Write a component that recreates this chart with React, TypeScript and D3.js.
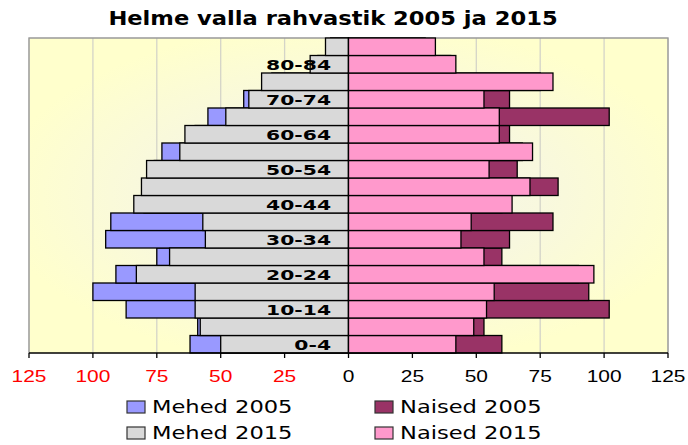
import React from "react";
import { scaleLinear, scaleBand, range } from "d3";

const ages = ["0-4", "5-9", "10-14", "15-19", "20-24", "25-29", "30-34", "35-39", "40-44",
  "45-49", "50-54", "55-59", "60-64", "65-69", "70-74", "75-79", "80-84", "85+"];
const men2005 = [62, 59, 87, 100, 91, 75, 95, 93, 80, 78, 76, 73, 60, 55, 41, 30, 12, 7];
const men2015 = [50, 58, 60, 60, 83, 70, 56, 57, 84, 81, 79, 66, 64, 48, 39, 34, 15, 9];
const women2005 = [60, 53, 102, 94, 90, 60, 63, 80, 60, 82, 66, 68, 63, 102, 63, 75, 40, 30];
const women2015 = [42, 49, 54, 57, 96, 53, 44, 48, 64, 71, 55, 72, 59, 59, 53, 80, 42, 34];
const ticks = [-125, -100, -75, -50, -25, 0, 25, 50, 75, 100, 125];
const legendItems = [
  { name: "Mehed 2005", color: "#9999FF" },
  { name: "Naised 2005", color: "#993366" },
  { name: "Mehed 2015", color: "#D9D9D9" },
  { name: "Naised 2015", color: "#FF99CC" },
];

const App = () => {
  const width = 688;
  const height = 445;
  const left = 29, right = 668, top = 38, bottom = 353;

  const x = scaleLinear().domain([-125, 125]).range([left, right]);
  const y = scaleBand().domain(ages).range([bottom, top]).padding(0);
  const bw = y.bandwidth();

  const bar = (vals: number[], sign: number, fill: string, key: string) =>
    vals.map((v, i) => {
      const x0 = x(0);
      const x1 = x(sign * v);
      return (
        <rect key={key + i} x={Math.min(x0, x1)} y={y(ages[i])} width={Math.abs(x1 - x0)}
          height={bw} fill={fill} stroke="#000" strokeWidth={1.3} />
      );
    });

  return (
    <svg width={width} height={height} viewBox={`0 0 ${width} ${height}`}
      style={{ position: "absolute", left: 0, top: 0, display: "block", background: "#fff" }}>
      <defs>
        <radialGradient id="bg" cx="0.5" cy="0.5" r="0.55">
          <stop offset="0" stopColor="#F3F3EC" />
          <stop offset="0.55" stopColor="#F8F8DE" />
          <stop offset="1" stopColor="#FFFFCC" />
        </radialGradient>
      </defs>
      <text transform={`translate(333,25) scale(1.19,1)`} textAnchor="middle"
        fontFamily="DejaVu Sans" fontWeight="bold" fontSize={19}>
        Helme valla rahvastik 2005 ja 2015
      </text>

      <rect x={left} y={top} width={right - left} height={bottom - top} fill="url(#bg)" />
      {ticks.filter((t) => t !== 0).map((t) => (
        <line key={"g" + t} x1={x(t)} x2={x(t)} y1={top} y2={bottom} stroke="#D4D4C8" strokeWidth={1.3} />
      ))}
      <path d={`M${left},${bottom}V${top}H${right}V${bottom}`} fill="none" stroke="#999" strokeWidth={1.3} />

      {bar(men2005, -1, "#9999FF", "m5")}
      {bar(men2015, -1, "#D9D9D9", "m15")}
      {bar(women2005, 1, "#993366", "w5")}
      {bar(women2015, 1, "#FF99CC", "w15")}

      {range(0, ages.length, 2).map((i) => (
        <text key={"a" + i} transform={`translate(331,${y(ages[i])! + bw / 2 + 6}) scale(1.4,1)`}
          textAnchor="end" fontFamily="DejaVu Sans" fontWeight="bold" fontSize={14.5}>
          {ages[i]}
        </text>
      ))}

      <line x1={left} x2={right} y1={bottom} y2={bottom} stroke="#000" strokeWidth={1.3} />
      {ticks.map((t) => (
        <g key={"t" + t}>
          <line x1={x(t)} x2={x(t)} y1={bottom} y2={bottom + 5} stroke="#000" strokeWidth={1.3} />
          <text transform={`translate(${x(t)},382) scale(1.23,1)`} textAnchor="middle"
            fontFamily="Liberation Sans" fontSize={17} fill={t < 0 ? "#FF0000" : "#000"}>
            {Math.abs(t)}
          </text>
        </g>
      ))}

      {legendItems.map((d, i) => {
        const lx = i % 2 === 0 ? 127 : 375;
        const ly = i < 2 ? 401 : 427;
        return (
          <g key={d.name}>
            <rect x={lx} y={ly} width={18} height={12} fill={d.color} stroke="#333" strokeWidth={1.2} />
            <text transform={`translate(${lx + 25},${ly + 12}) scale(1.29,1)`}
              fontFamily="DejaVu Sans" fontSize={17.5} fill="#000">
              {d.name}
            </text>
          </g>
        );
      })}
    </svg>
  );
};

export default App;
